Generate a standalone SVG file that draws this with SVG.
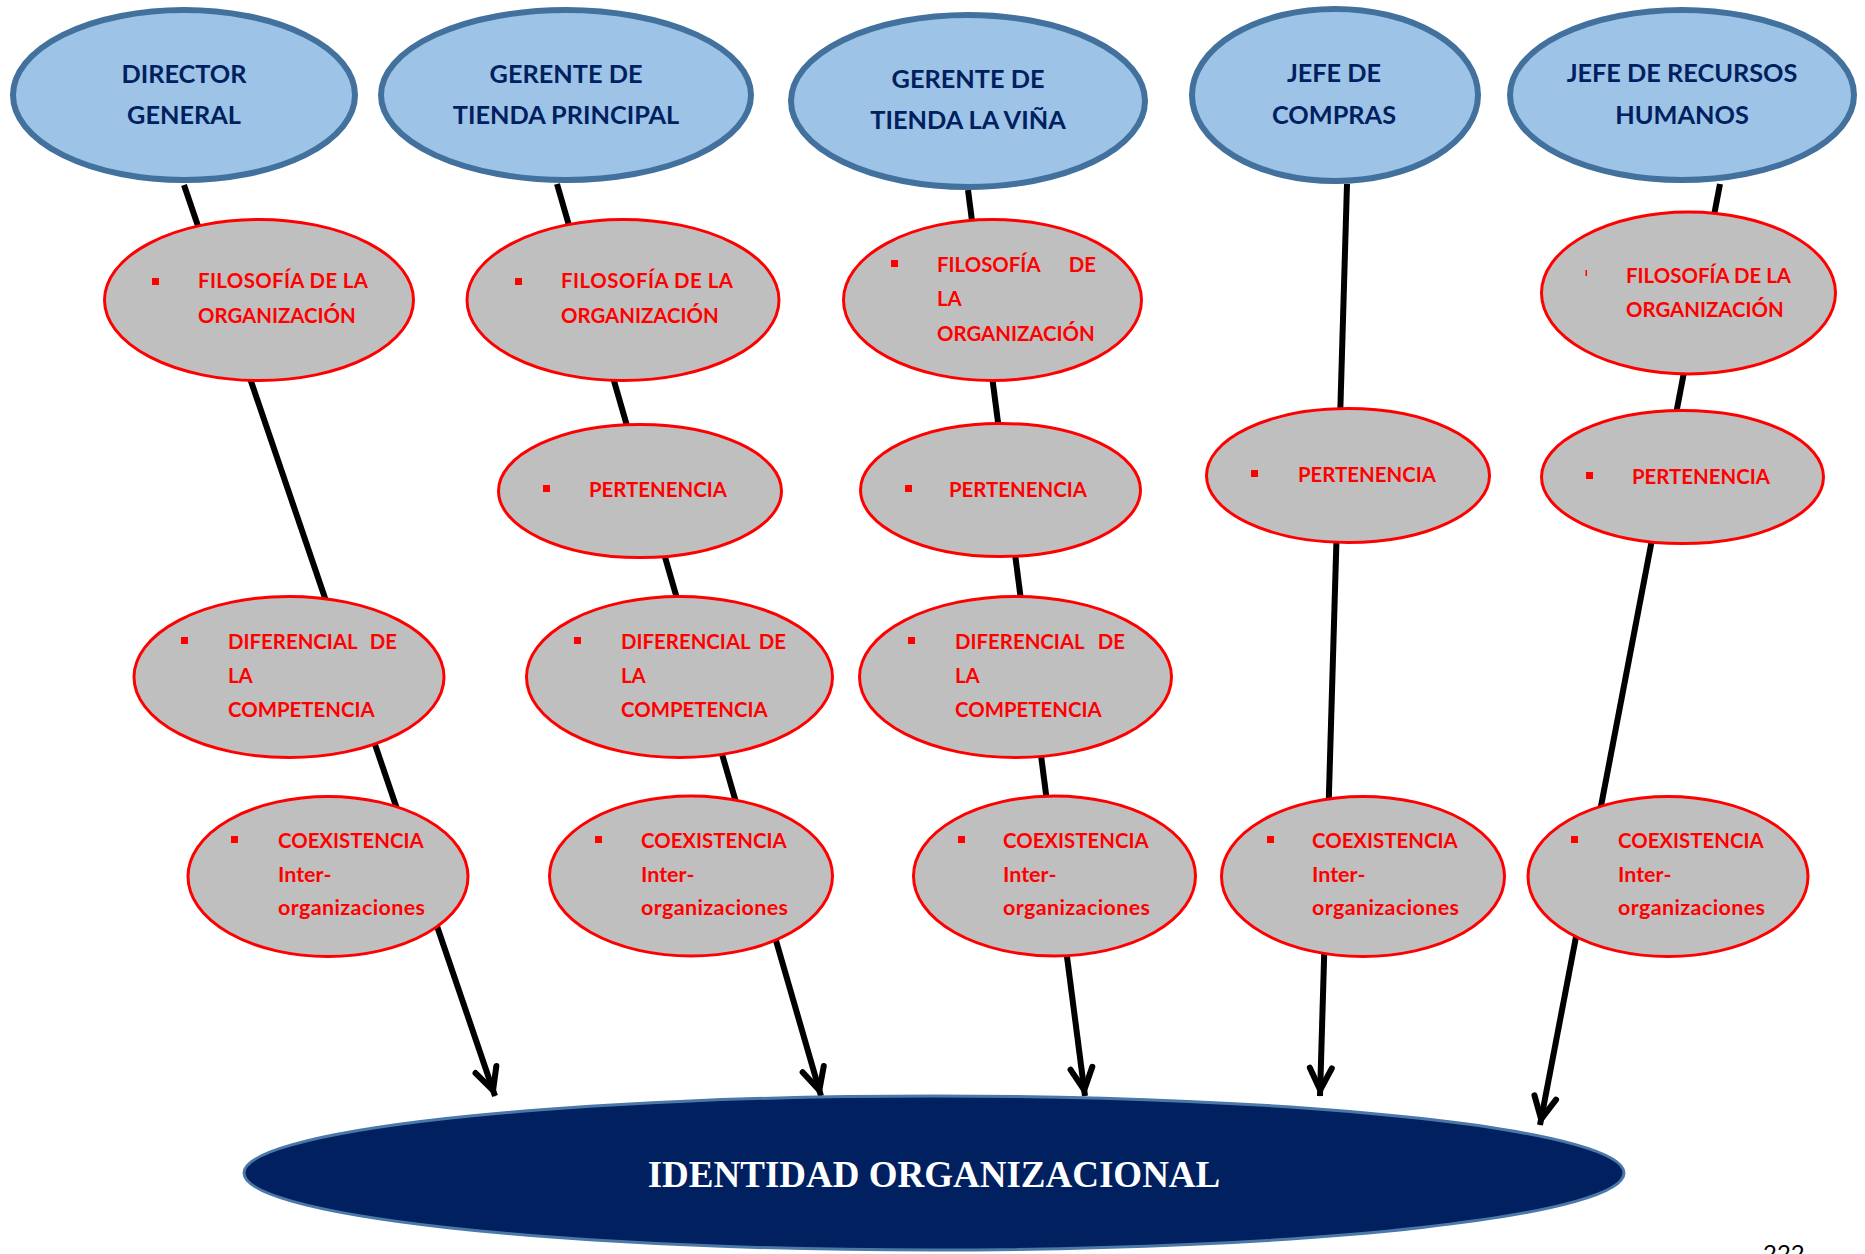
<svg xmlns="http://www.w3.org/2000/svg" width="1865" height="1254" viewBox="0 0 1865 1254">
  <style>
    .role { fill: #9DC3E6; stroke: #41719C; stroke-width: 6; }
    .role-t { font-family: Lato, "Liberation Sans", sans-serif; font-weight: 700; font-size: 25.3px; fill: #002060; text-anchor: middle; }
    .item { fill: #BFBFBF; stroke: #FF0000; stroke-width: 3; }
    .item-t { font-family: Lato, "Liberation Sans", sans-serif; font-weight: 700; font-size: 20.4px; fill: #FF0000; }
    .lower { font-size: 21.5px; }
    .end { text-anchor: end; }
    .bullet { fill: #FF0000; }
    .link { fill: none; stroke: #000000; stroke-width: 6; marker-end: url(#arrow); }
    .goal { fill: #002060; stroke: #4A78A8; stroke-width: 3; }
    .goal-t { font-family: "Liberation Serif", "Times New Roman", serif; font-weight: 700; font-size: 37px; fill: #FFFFFF; text-anchor: middle; }
    .page { font-family: Lato, "Liberation Sans", sans-serif; font-size: 24px; fill: #000000; }
  </style>
  <defs>
    <marker id="arrow" markerUnits="userSpaceOnUse" viewBox="0 0 40 30" markerWidth="40" markerHeight="30" refX="34" refY="15" orient="auto" overflow="visible">
      <path d="M6,4 L28,15 L6,26" fill="none" stroke="#000000" stroke-width="6" stroke-linecap="round" stroke-linejoin="miter"/>
    </marker>
  </defs>

  <rect width="1865" height="1254" fill="#FFFFFF"/>

  <!-- connectors: one straight arrow per column, running behind the ellipses -->
  <g id="connectors">
    <line class="link" x1="184" y1="185" x2="495" y2="1096"/>
    <line class="link" x1="557" y1="184" x2="821" y2="1096"/>
    <line class="link" x1="968" y1="190" x2="1085" y2="1096"/>
    <line class="link" x1="1347" y1="184" x2="1320" y2="1096"/>
    <line class="link" x1="1720" y1="184" x2="1540" y2="1125"/>
  </g>

  <!-- roles -->
  <g id="director-general">
    <ellipse class="role" cx="184" cy="95" rx="171" ry="85"/>
    <text class="role-t" x="184" y="83">DIRECTOR</text>
    <text class="role-t" x="184" y="124">GENERAL</text>
  </g>
  <g id="gerente-tienda-principal">
    <ellipse class="role" cx="566" cy="95" rx="185" ry="85"/>
    <text class="role-t" x="566" y="83">GERENTE DE</text>
    <text class="role-t" x="566" y="124">TIENDA PRINCIPAL</text>
  </g>
  <g id="gerente-tienda-la-vina">
    <ellipse class="role" cx="968" cy="101" rx="177" ry="86"/>
    <text class="role-t" x="968" y="88">GERENTE DE</text>
    <text class="role-t" x="968" y="129">TIENDA LA VIÑA</text>
  </g>
  <g id="jefe-compras">
    <ellipse class="role" cx="1335" cy="95" rx="143" ry="86"/>
    <text class="role-t" x="1334" y="82">JEFE DE</text>
    <text class="role-t" x="1334" y="124">COMPRAS</text>
  </g>
  <g id="jefe-recursos-humanos">
    <ellipse class="role" cx="1682" cy="95" rx="172" ry="85"/>
    <text class="role-t" x="1682" y="82">JEFE DE RECURSOS</text>
    <text class="role-t" x="1682" y="124">HUMANOS</text>
  </g>

  <!-- column 1 -->
  <g id="c1-filosofia">
    <ellipse class="item" cx="259" cy="300" rx="154.5" ry="80.5"/>
    <rect class="bullet" x="152" y="278" width="7" height="7"/>
    <text class="item-t" x="198" y="288" textLength="170" lengthAdjust="spacing">FILOSOFÍA DE LA</text>
    <text class="item-t" x="198" y="323">ORGANIZACIÓN</text>
  </g>
  <g id="c1-diferencial">
    <ellipse class="item" cx="289" cy="677" rx="155" ry="80.5"/>
    <rect class="bullet" x="181" y="637" width="7" height="7"/>
    <text class="item-t" x="228" y="649">DIFERENCIAL</text>
    <text class="item-t end" x="397" y="649">DE</text>
    <text class="item-t" x="228" y="683">LA</text>
    <text class="item-t" x="228" y="717">COMPETENCIA</text>
  </g>
  <g id="c1-coexistencia">
    <ellipse class="item" cx="328" cy="876.5" rx="140" ry="80"/>
    <rect class="bullet" x="231" y="836" width="7" height="7"/>
    <text class="item-t" x="278" y="848">COEXISTENCIA</text>
    <text class="item-t lower" x="278" y="882">Inter-</text>
    <text class="item-t lower" x="278" y="915" textLength="147" lengthAdjust="spacing">organizaciones</text>
  </g>

  <!-- column 2 -->
  <g id="c2-filosofia">
    <ellipse class="item" cx="623" cy="300" rx="156" ry="80.5"/>
    <rect class="bullet" x="515" y="278" width="7" height="7"/>
    <text class="item-t" x="561" y="288" textLength="172" lengthAdjust="spacing">FILOSOFÍA DE LA</text>
    <text class="item-t" x="561" y="323">ORGANIZACIÓN</text>
  </g>
  <g id="c2-pertenencia">
    <ellipse class="item" cx="640" cy="491" rx="141.5" ry="66.5"/>
    <rect class="bullet" x="543" y="485" width="7" height="7"/>
    <text class="item-t" x="589" y="497">PERTENENCIA</text>
  </g>
  <g id="c2-diferencial">
    <ellipse class="item" cx="679.5" cy="677" rx="153" ry="80.5"/>
    <rect class="bullet" x="574" y="637" width="7" height="7"/>
    <text class="item-t" x="621" y="649">DIFERENCIAL</text>
    <text class="item-t end" x="786" y="649">DE</text>
    <text class="item-t" x="621" y="683">LA</text>
    <text class="item-t" x="621" y="717">COMPETENCIA</text>
  </g>
  <g id="c2-coexistencia">
    <ellipse class="item" cx="691" cy="876" rx="141.5" ry="80"/>
    <rect class="bullet" x="595" y="836" width="7" height="7"/>
    <text class="item-t" x="641" y="848">COEXISTENCIA</text>
    <text class="item-t lower" x="641" y="882">Inter-</text>
    <text class="item-t lower" x="641" y="915" textLength="147" lengthAdjust="spacing">organizaciones</text>
  </g>

  <!-- column 3 -->
  <g id="c3-filosofia">
    <ellipse class="item" cx="992.5" cy="300" rx="149" ry="80.5"/>
    <rect class="bullet" x="891" y="260" width="7" height="7"/>
    <text class="item-t" x="937" y="272">FILOSOFÍA</text>
    <text class="item-t end" x="1096" y="272">DE</text>
    <text class="item-t" x="937" y="306">LA</text>
    <text class="item-t" x="937" y="341">ORGANIZACIÓN</text>
  </g>
  <g id="c3-pertenencia">
    <ellipse class="item" cx="1000.5" cy="490" rx="140" ry="66.5"/>
    <rect class="bullet" x="905" y="485" width="7" height="7"/>
    <text class="item-t" x="949" y="497">PERTENENCIA</text>
  </g>
  <g id="c3-diferencial">
    <ellipse class="item" cx="1015.5" cy="677" rx="156" ry="80.5"/>
    <rect class="bullet" x="908" y="637" width="7" height="7"/>
    <text class="item-t" x="955" y="649">DIFERENCIAL</text>
    <text class="item-t end" x="1125" y="649">DE</text>
    <text class="item-t" x="955" y="683">LA</text>
    <text class="item-t" x="955" y="717">COMPETENCIA</text>
  </g>
  <g id="c3-coexistencia">
    <ellipse class="item" cx="1054.5" cy="876" rx="141" ry="80"/>
    <rect class="bullet" x="958" y="836" width="7" height="7"/>
    <text class="item-t" x="1003" y="848">COEXISTENCIA</text>
    <text class="item-t lower" x="1003" y="882">Inter-</text>
    <text class="item-t lower" x="1003" y="915" textLength="147" lengthAdjust="spacing">organizaciones</text>
  </g>

  <!-- column 4 -->
  <g id="c4-pertenencia">
    <ellipse class="item" cx="1348" cy="475.5" rx="141.5" ry="67"/>
    <rect class="bullet" x="1251" y="470" width="7" height="7"/>
    <text class="item-t" x="1298" y="482">PERTENENCIA</text>
  </g>
  <g id="c4-coexistencia">
    <ellipse class="item" cx="1363" cy="876.5" rx="141.5" ry="80"/>
    <rect class="bullet" x="1267" y="836" width="7" height="7"/>
    <text class="item-t" x="1312" y="848">COEXISTENCIA</text>
    <text class="item-t lower" x="1312" y="882">Inter-</text>
    <text class="item-t lower" x="1312" y="915" textLength="147" lengthAdjust="spacing">organizaciones</text>
  </g>

  <!-- column 5 -->
  <g id="c5-filosofia">
    <ellipse class="item" cx="1688.5" cy="293" rx="147" ry="81"/>
    <rect class="bullet" x="1585.5" y="270" width="1.5" height="6"/>
    <text class="item-t" x="1626" y="283" textLength="165" lengthAdjust="spacing">FILOSOFÍA DE LA</text>
    <text class="item-t" x="1626" y="317">ORGANIZACIÓN</text>
  </g>
  <g id="c5-pertenencia">
    <ellipse class="item" cx="1682.5" cy="477" rx="141" ry="66.5"/>
    <rect class="bullet" x="1586" y="472" width="7" height="7"/>
    <text class="item-t" x="1632" y="484">PERTENENCIA</text>
  </g>
  <g id="c5-coexistencia">
    <ellipse class="item" cx="1668" cy="876.5" rx="140" ry="80"/>
    <rect class="bullet" x="1571" y="836" width="7" height="7"/>
    <text class="item-t" x="1618" y="848">COEXISTENCIA</text>
    <text class="item-t lower" x="1618" y="882">Inter-</text>
    <text class="item-t lower" x="1618" y="915" textLength="147" lengthAdjust="spacing">organizaciones</text>
  </g>

  <!-- target -->
  <g id="identidad-organizacional">
    <ellipse class="goal" cx="934" cy="1173" rx="690" ry="77"/>
    <text class="goal-t" x="934" y="1187">IDENTIDAD ORGANIZACIONAL</text>
  </g>

  <text class="page" x="1763" y="1262">222</text>
</svg>
